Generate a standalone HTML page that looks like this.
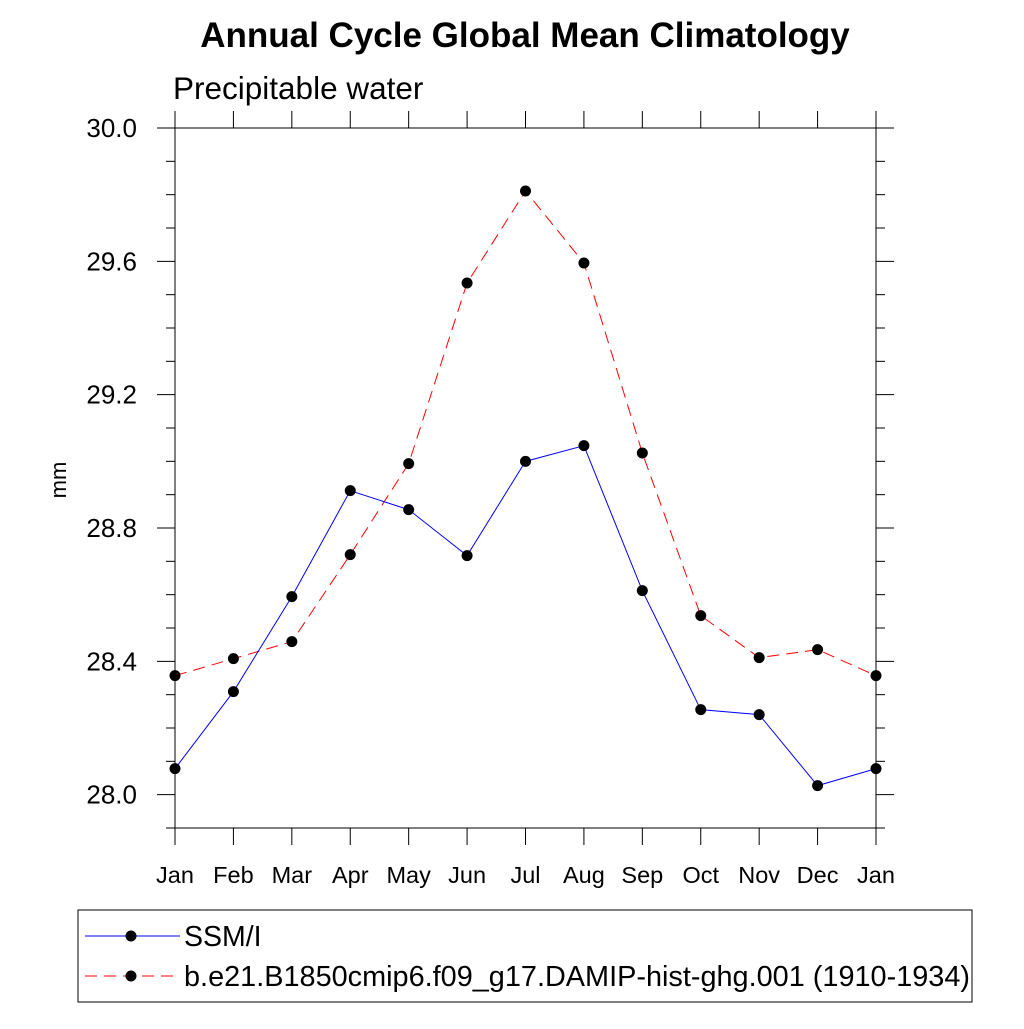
<!DOCTYPE html>
<html><head><meta charset="utf-8"><style>
body{margin:0;background:#fff}
svg{font-family:"Liberation Sans",sans-serif}
</style></head><body>
<svg id="chart" width="1024" height="1024" xmlns="http://www.w3.org/2000/svg">
<text x="525" y="47" text-anchor="middle" font-size="35" font-weight="bold">Annual Cycle Global Mean Climatology</text>
<text x="173" y="99" font-size="31.5">Precipitable water</text>
<text transform="translate(66,480) rotate(-90)" text-anchor="middle" font-size="22">mm</text>
<g id="axes"></g>
<g id="series"></g>
<g>
<rect x="78" y="910" width="894" height="92" fill="none" stroke="#000" stroke-width="1"/>
<line x1="85" y1="936" x2="180" y2="936" stroke="#00f" stroke-width="1"/>
<circle cx="131" cy="936" r="5.5" fill="#000"/>
<text x="184" y="946" font-size="28.5">SSM/I</text>
<line x1="85" y1="976" x2="180" y2="976" stroke="#f00" stroke-width="1" stroke-dasharray="12,7"/>
<circle cx="131" cy="976" r="5.5" fill="#000"/>
<text x="184" y="986" font-size="28.5" textLength="786" lengthAdjust="spacingAndGlyphs">b.e21.B1850cmip6.f09_g17.DAMIP-hist-ghg.001 (1910-1934)</text>
</g>
</svg>
<script>
const months=["Jan","Feb","Mar","Apr","May","Jun","Jul","Aug","Sep","Oct","Nov","Dec","Jan"];
const ssmi=[28.078,28.309,28.594,28.912,28.855,28.717,29.0,29.047,28.612,28.255,28.24,28.027,28.078];
const model=[28.357,28.408,28.459,28.72,28.993,29.535,29.811,29.595,29.025,28.537,28.411,28.435,28.357];
const yTicks=["28.0","28.4","28.8","29.2","29.6","30.0"];
const NS="http://www.w3.org/2000/svg";
const L=175,R=876,T=128,B=828,ymin=27.9,ymax=30.0;
const xs=i=>L+(R-L)*i/12;
const ys=v=>B-(v-ymin)/(ymax-ymin)*(B-T);
function mk(t,a,p){const e=document.createElementNS(NS,t);for(const k in a)e.setAttribute(k,a[k]);p.appendChild(e);return e;}
const ax=document.getElementById('axes');
const frame=mk('rect',{x:L,y:T,width:R-L,height:B-T,fill:'none',stroke:'#000','stroke-width':1},ax);


months.forEach((m,i)=>{const x=xs(i);
mk('line',{x1:x,y1:B,x2:x,y2:B+17,stroke:'#000'},ax);
mk('line',{x1:x,y1:T,x2:x,y2:T-17,stroke:'#000'},ax);
const t=mk('text',{x:x,y:B+55,'text-anchor':'middle','font-size':23.5},ax);t.textContent=m;

});
for(let k=0;k<=21;k++){const v=ymin+k*0.1;const y=ys(v);const major=Math.abs(((v-28.0)/0.4)-Math.round((v-28.0)/0.4))<0.01;const len=major?18:9;
mk('line',{x1:L,y1:y,x2:L-len,y2:y,stroke:'#000'},ax);
mk('line',{x1:R,y1:y,x2:R+len,y2:y,stroke:'#000'},ax);}
yTicks.forEach(s=>{const t=mk('text',{x:L-38,y:ys(parseFloat(s))+9,'text-anchor':'end','font-size':26},ax);t.textContent=s;

});
const sg=document.getElementById('series');
function draw(data,color,dash,name){
const p=mk('polyline',{points:data.map((v,i)=>xs(i)+','+ys(v)).join(' '),fill:'none',stroke:color,'stroke-width':1,'stroke-dasharray':dash},sg);


data.forEach((v,i)=>{const c=mk('circle',{cx:xs(i),cy:ys(v),r:5.5,fill:'#000'},sg);

});}
draw(model,'#f00','12,7','model');
draw(ssmi,'#00f','none','ssmi');
</script>
</body></html>
